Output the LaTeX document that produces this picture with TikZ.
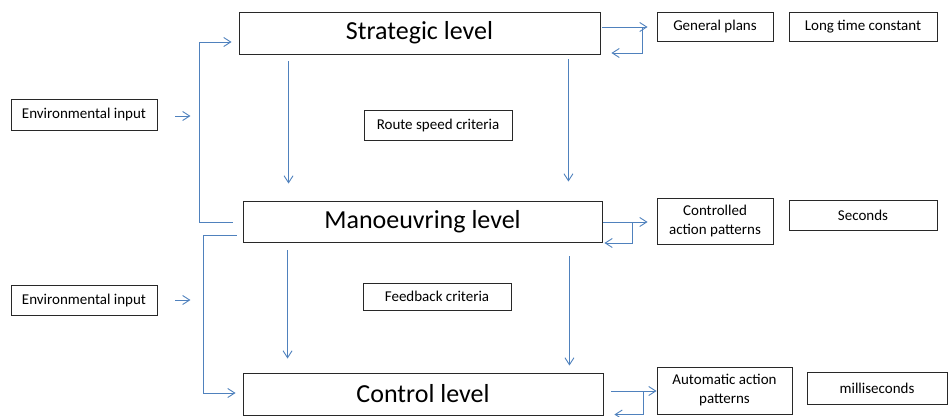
\documentclass[tikz,border=0pt]{standalone}
\usepackage{fontspec}
\setmainfont{Carlito}
\usetikzlibrary{arrows.meta,calc}
\definecolor{linkblue}{RGB}{79,129,189}
\definecolor{boxline}{RGB}{40,40,40}
\begin{document}
\begin{tikzpicture}[x=1pt,y=-1pt,
  box/.style={draw=boxline,line width=0.9pt,inner sep=0pt,align=center,
    font=\fontsize{15}{19}\selectfont},
  levelbox/.style={box,font=\fontsize{26}{30}\selectfont},
  arr/.style={draw=linkblue,line width=0.9pt,
    -{Straight Barb[length=7pt,width=9pt,line width=0.9pt]}},
  link/.style={draw=linkblue,line width=0.9pt}]
\useasboundingbox (0,0) rectangle (948,416);

% hierarchy levels
\node[levelbox,minimum width=361,minimum height=42] (strat) at (419.5,33) {Strategic level};
\node[levelbox,minimum width=359,minimum height=41] (man) at (422.5,221.5) {Manoeuvring level};
\node[levelbox,minimum width=360,minimum height=42] (ctrl) at (423,394) {Control level};

% outputs and time scales
\node[box,minimum width=116,minimum height=29] (gp) at (715,26.5) {General plans};
\node[box,minimum width=148,minimum height=29] (ltc) at (863,26.5) {Long time constant};
\node[box,minimum width=116,minimum height=46] (cap) at (715,221) {Controlled\\action patterns};
\node[box,minimum width=148,minimum height=30] (sec) at (863,215) {Seconds};
\node[box,minimum width=135,minimum height=47] (aap) at (724.5,390.5) {Automatic action\\patterns};
\node[box,minimum width=140,minimum height=32] (ms) at (877,388) {milliseconds};

% inputs and criteria
\node[box,minimum width=146,minimum height=31] (env1) at (84,114.5) {Environmental input};
\node[box,minimum width=146,minimum height=30] (env2) at (84,300) {Environmental input};
\node[box,minimum width=148,minimum height=30] (rsc) at (438,125) {Route speed criteria};
\node[box,minimum width=148,minimum height=27] (fbc) at (437,296.5) {Feedback criteria};

% downward flow between levels
\draw[arr] ([xshift=50pt,yshift=-7pt]strat.south west) -- ([xshift=46pt,yshift=17pt]man.north west);
\draw[arr] ([xshift=-32pt,yshift=-5pt]strat.south east) -- ([xshift=-34pt,yshift=19pt]man.north east);
\draw[arr] ([xshift=45pt,yshift=-8pt]man.south west) -- ([xshift=45pt,yshift=14pt]ctrl.north west);
\draw[arr] ([xshift=-33pt,yshift=-14pt]man.south east) -- ([xshift=-34pt,yshift=7pt]ctrl.north east);

% upward feedback brackets on the left
\draw[arr] ([xshift=-10pt,yshift=-0.5pt]man.west) -- ++(-33,0) |- ([xshift=-7pt,yshift=-9pt]strat.west);
\draw[arr] ([xshift=-6pt,yshift=-13.5pt]man.west) -- ++(-33,0) |- ([xshift=-7pt,yshift=1pt]ctrl.west);

% environmental inputs
\draw[arr] ([xshift=18pt,yshift=-1.5pt]env1.east) -- ++(15,0);
\draw[arr] ([xshift=18pt]env2.east) -- ++(15,0);

% loops to the outputs
\draw[arr] ([xshift=2pt,yshift=6pt]strat.east) -- ([xshift=-9pt,yshift=-0.5pt]gp.west);
\draw[arr] ([xshift=-14pt,yshift=-0.5pt]gp.west) |- ([xshift=11pt,yshift=-20pt]strat.east);
\draw[arr] ([xshift=1pt,yshift=-0.5pt]man.east) -- ([xshift=-9pt,yshift=-1pt]cap.west);
\draw[arr] ([xshift=-24pt,yshift=-1pt]cap.west) |- ([xshift=2pt,yshift=-21.5pt]man.east);
\draw[arr] ([xshift=8pt,yshift=3pt]ctrl.east) -- ([yshift=-0.5pt]aap.west);
\draw[arr] ([xshift=-13pt,yshift=-0.5pt]aap.west) |- ([xshift=11pt,yshift=-20.5pt]ctrl.east);
\end{tikzpicture}
\end{document}
